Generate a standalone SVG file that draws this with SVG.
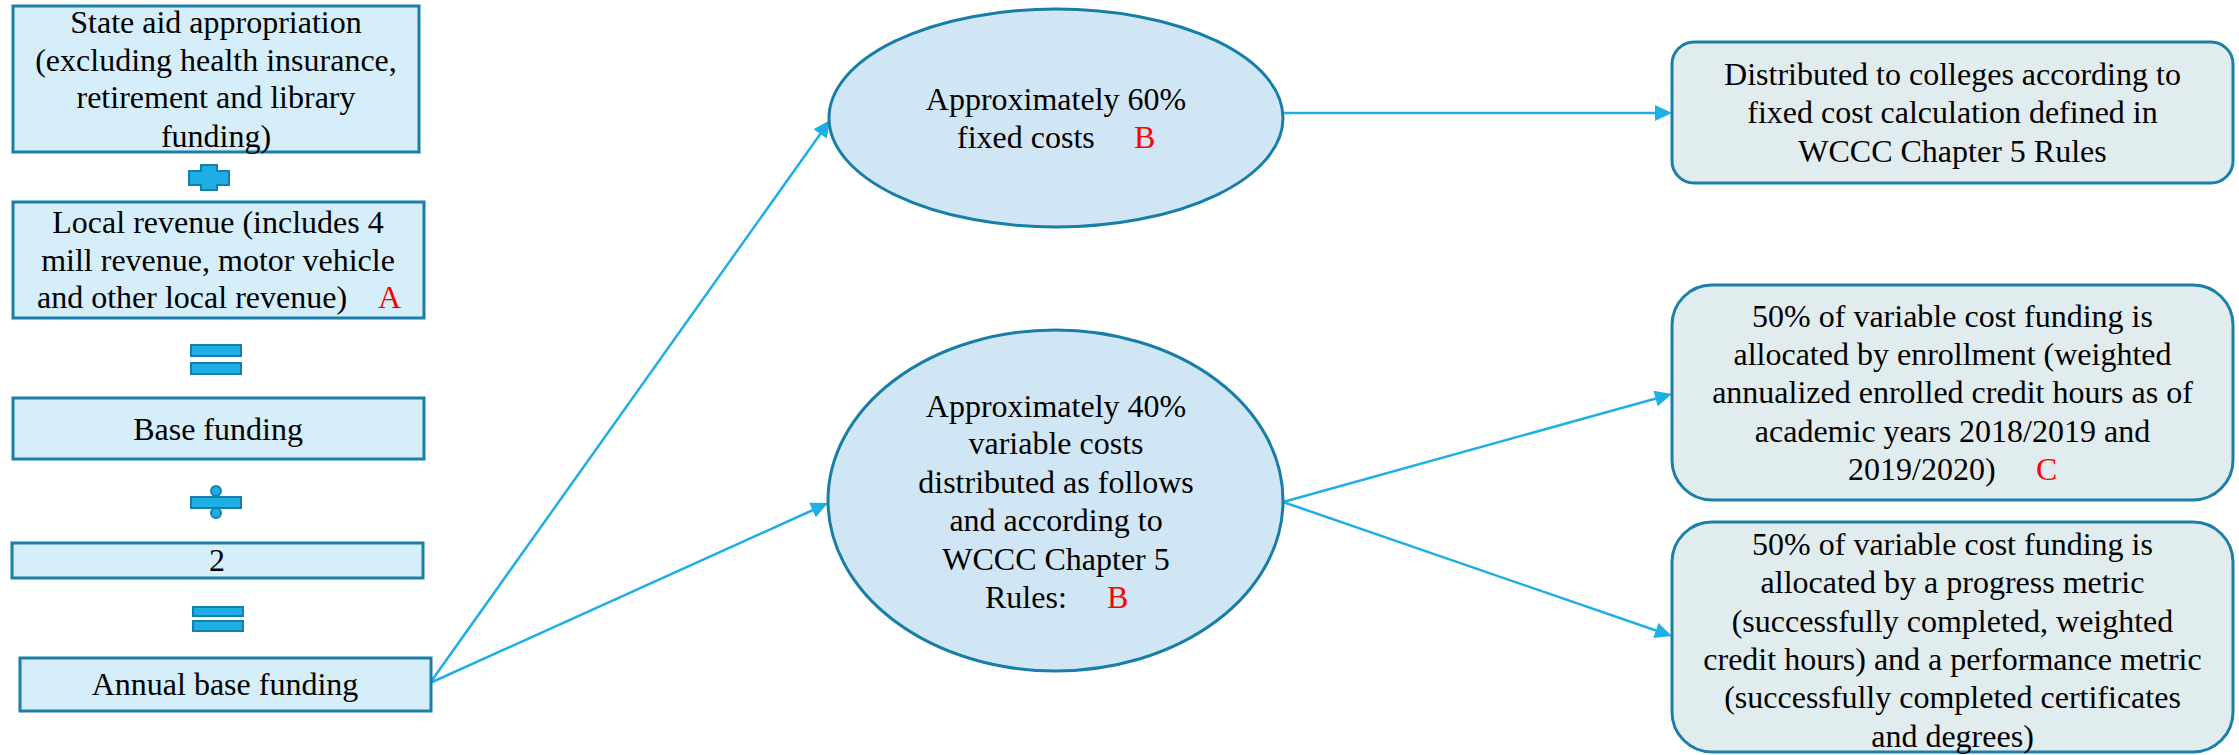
<svg xmlns="http://www.w3.org/2000/svg" width="2239" height="755" viewBox="0 0 2239 755">
<defs>
<style>
.lbox{fill:#d5eef9;stroke:#1a7fa8;stroke-width:3}
.ell{fill:#d1e6f4;stroke:#177ea8;stroke-width:3}
.rbox{fill:#e0ecee;stroke:#1a80aa;stroke-width:3}
.sym{fill:#1eaee6;stroke:#1780a8;stroke-width:2}
.t{font-family:"Liberation Serif","Times New Roman",serif;font-size:32px;fill:#000;text-anchor:middle}
.ts{font-family:"Liberation Serif","Times New Roman",serif;font-size:32px;fill:#000}
.red{font-family:"Liberation Serif","Times New Roman",serif;font-size:32px;fill:#ff0000}
.conn{stroke:#1fafe5;stroke-width:2.5;fill:none}
.ah{fill:#1fafe5}
</style>
</defs>
<rect width="2239" height="755" fill="#fff"/>

<g id="connectors">
<line class="conn" x1="430" y1="683" x2="821" y2="133"/>
<line class="conn" x1="430" y1="683" x2="813" y2="510"/>
<line class="conn" x1="1283" y1="113" x2="1656" y2="113"/>
<line class="conn" x1="1283" y1="502" x2="1656" y2="398.5"/>
<line class="conn" x1="1283" y1="502" x2="1656" y2="630.5"/>
<path class="ah" d="M830,120 L826.7,138.5 L813.6,129.2 Z"/>
<path class="ah" d="M828,503 L815.8,517.3 L809.2,502.7 Z"/>
<path class="ah" d="M1672,113 L1655,121 L1655,105 Z"/>
<path class="ah" d="M1672,394 L1657.7,406.2 L1653.5,390.8 Z"/>
<path class="ah" d="M1672,636 L1653.3,638 L1658.5,622.9 Z"/>
</g>

<g id="state-aid">
<rect class="lbox" x="13" y="6" width="406" height="146"/>
<text class="t" x="216" y="33">State aid appropriation</text>
<text class="t" x="216" y="71">(excluding health insurance,</text>
<text class="t" x="216" y="108">retirement and library</text>
<text class="t" x="216" y="147">funding)</text>
</g>

<g id="plus">
<path class="sym" d="M201,165 H217 V171 H229 V185 H217 V190 H201 V185 H189 V171 H201 Z"/>
</g>

<g id="local-revenue">
<rect class="lbox" x="13" y="202" width="411" height="116"/>
<text class="t" x="218" y="233">Local revenue (includes 4</text>
<text class="t" x="218" y="271">mill revenue, motor vehicle</text>
<text class="ts" x="37" y="308">and other local revenue)</text>
<text class="red" x="378" y="308">A</text>
</g>

<g id="equals1">
<rect class="sym" x="191" y="345" width="50" height="11"/>
<rect class="sym" x="191" y="363" width="50" height="11"/>
</g>

<g id="base-funding">
<rect class="lbox" x="13" y="398" width="411" height="61"/>
<text class="t" x="218" y="440">Base funding</text>
</g>

<g id="divide">
<rect class="sym" x="191" y="497" width="50" height="11"/>
<circle class="sym" cx="216" cy="491" r="5"/>
<circle class="sym" cx="216" cy="513" r="5"/>
</g>

<g id="two">
<rect class="lbox" x="12" y="543" width="411" height="35"/>
<text class="t" x="217" y="571">2</text>
</g>

<g id="equals2">
<rect class="sym" x="193" y="607" width="50" height="9"/>
<rect class="sym" x="193" y="621" width="50" height="10"/>
</g>

<g id="annual-base">
<rect class="lbox" x="20" y="658" width="411" height="53"/>
<text class="t" x="225" y="695">Annual base funding</text>
</g>

<g id="fixed-costs">
<ellipse class="ell" cx="1056" cy="118" rx="227" ry="109"/>
<text class="t" x="1056" y="110">Approximately 60%</text>
<text class="ts" x="957" y="148">fixed costs</text>
<text class="red" x="1134" y="148">B</text>
</g>

<g id="variable-costs">
<ellipse class="ell" cx="1055.5" cy="500.5" rx="227.5" ry="170.5"/>
<text class="t" x="1056" y="417">Approximately 40%</text>
<text class="t" x="1056" y="454">variable costs</text>
<text class="t" x="1056" y="493">distributed as follows</text>
<text class="t" x="1056" y="531">and according to</text>
<text class="t" x="1056" y="570">WCCC Chapter 5</text>
<text class="ts" x="985" y="608">Rules:</text>
<text class="red" x="1107" y="608">B</text>
</g>

<g id="distributed">
<rect class="rbox" x="1672" y="42" width="561" height="141" rx="22"/>
<text class="t" x="1952.5" y="85">Distributed to colleges according to</text>
<text class="t" x="1952.5" y="123">fixed cost calculation defined in</text>
<text class="t" x="1952.5" y="162">WCCC Chapter 5 Rules</text>
</g>

<g id="enrollment">
<rect class="rbox" x="1672" y="285" width="561" height="215" rx="40"/>
<text class="t" x="1952.5" y="327">50% of variable cost funding is</text>
<text class="t" x="1952.5" y="365">allocated by enrollment (weighted</text>
<text class="t" x="1952.5" y="403">annualized enrolled credit hours as of</text>
<text class="t" x="1952.5" y="442">academic years 2018/2019 and</text>
<text class="ts" x="1848" y="480">2019/2020)</text>
<text class="red" x="2036" y="480">C</text>
</g>

<g id="progress">
<rect class="rbox" x="1672" y="522" width="561" height="230" rx="40"/>
<text class="t" x="1952.5" y="555">50% of variable cost funding is</text>
<text class="t" x="1952.5" y="593">allocated by a progress metric</text>
<text class="t" x="1952.5" y="632">(successfully completed, weighted</text>
<text class="t" x="1952.5" y="670">credit hours) and a performance metric</text>
<text class="t" x="1952.5" y="708">(successfully completed certificates</text>
<text class="t" x="1952.5" y="747">and degrees)</text>
</g>
</svg>
